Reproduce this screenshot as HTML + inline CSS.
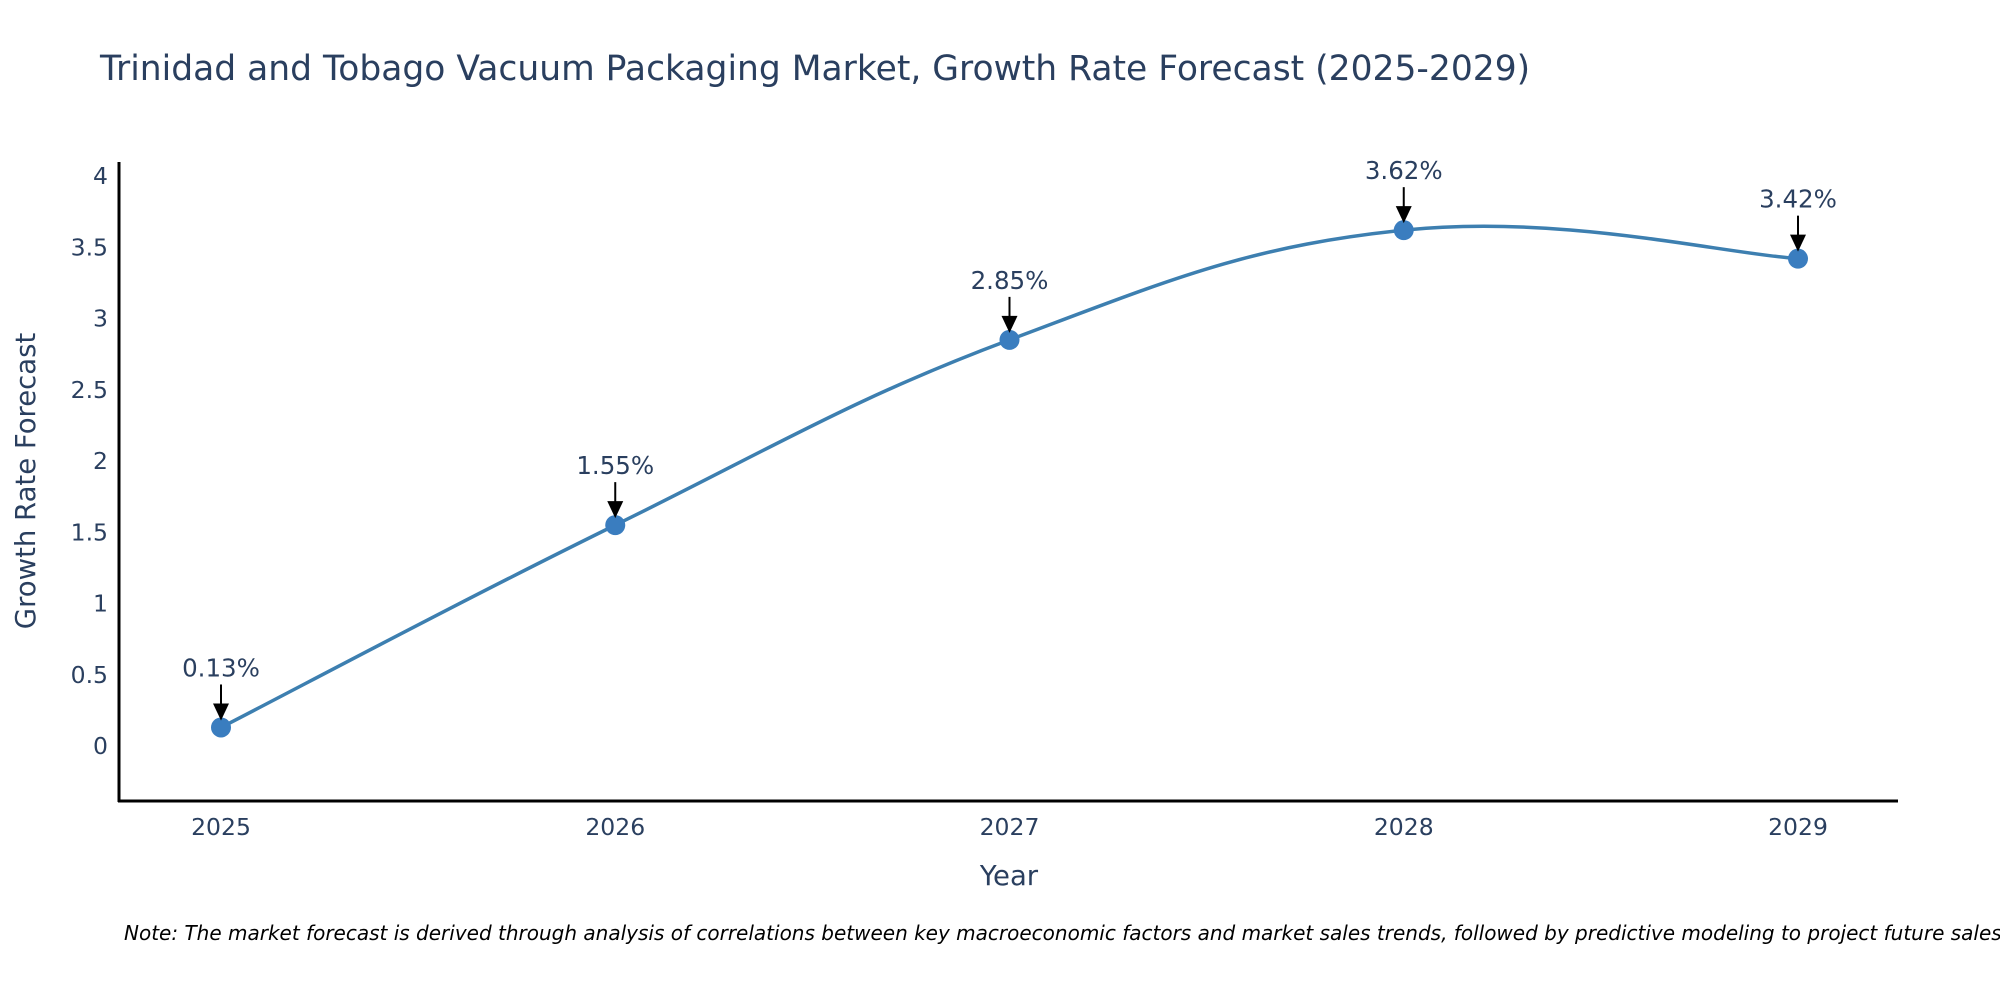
<!DOCTYPE html>
<html><head><meta charset="utf-8"><style>
body{margin:0;background:#fff;}
svg text{font-family:"DejaVu Sans","Liberation Sans",sans-serif;fill:#2a3f5f;}
</style></head><body>
<svg id="chart" width="2000" height="1000" viewBox="0 0 2000 1000" xmlns="http://www.w3.org/2000/svg">
<text x="100" y="80" font-size="34.5">Trinidad and Tobago Vacuum Packaging Market, Growth Rate Forecast (2025-2029)</text>
<g id="yticks"></g>
<g id="xticks"></g>
<line x1="119" y1="162" x2="119" y2="802" stroke="#000" stroke-width="3"/>
<line x1="118" y1="801" x2="1898" y2="801" stroke="#000" stroke-width="3"/>
<text transform="translate(35,481) rotate(-90)" text-anchor="middle" font-size="27.5">Growth Rate Forecast</text>
<text x="1009" y="885" text-anchor="middle" font-size="27.5">Year</text>
<g id="series"></g>
<g id="annots"></g>
<text x="124" y="940" font-size="20" font-style="italic" style="fill:#000">Note: The market forecast is derived through analysis of correlations between key macroeconomic factors and market sales trends, followed by predictive modeling to project future sales.</text>
</svg>
<script>
const categories = ["2025","2026","2027","2028","2029"];
const values = [0.13, 1.55, 2.85, 3.62, 3.42];
const valueLabels = ["0.13%","1.55%","2.85%","3.62%","3.42%"];
const yTicks = [0,0.5,1,1.5,2,2.5,3,3.5,4];
const yTickLabels = ["0","0.5","1","1.5","2","2.5","3","3.5","4"];

const NS="http://www.w3.org/2000/svg";
function xScale(i){return 221 + i*(1798-221)/(categories.length-1);}
function yScale(v){return 746 - v*(746-176)/4;}
function mk(tag,attrs,parent){const e=document.createElementNS(NS,tag);for(const k in attrs)e.setAttribute(k,attrs[k]);parent.appendChild(e);return e;}

const yg=document.getElementById('yticks');
yTicks.forEach((t,i)=>{
  const tx=mk('text',{x:108,y:yScale(t)+8,'text-anchor':'end','font-size':23.5},yg);
  
  
  tx.textContent=yTickLabels[i];
});
const xg=document.getElementById('xticks');
categories.forEach((c,i)=>{
  const tx=mk('text',{x:xScale(i),y:835,'text-anchor':'middle','font-size':23.5},xg);
  
  
  tx.textContent=c;
});

const pts=values.map((v,i)=>[xScale(i),yScale(v)]);
let d=`M${pts[0][0]},${pts[0][1]}`;
const s=0.6;
for(let i=0;i<pts.length-1;i++){
  const p0=pts[i-1]||pts[i],p1=pts[i],p2=pts[i+1],p3=pts[i+2]||pts[i+1];
  const c1=[p1[0]+(p2[0]-p0[0])*s/3,p1[1]+(p2[1]-p0[1])*s/3];
  const c2=[p2[0]-(p3[0]-p1[0])*s/3,p2[1]-(p3[1]-p1[1])*s/3];
  d+=` C${c1[0]},${c1[1]} ${c2[0]},${c2[1]} ${p2[0]},${p2[1]}`;
}
const sg=document.getElementById('series');
const line=mk('path',{d:d,fill:'none',stroke:'#3d7fb0','stroke-width':3.5},sg);


pts.forEach(p=>{
  const c=mk('circle',{cx:p[0],cy:p[1],r:10,fill:'#3a7dbf'},sg);
  
  
});

const ag=document.getElementById('annots');
pts.forEach((p,i)=>{
  const l=mk('line',{x1:p[0],y1:p[1]-43,x2:p[0],y2:p[1]-20,stroke:'#000','stroke-width':2},ag);
  
  
  const h=mk('path',{d:`M${p[0]-8},${p[1]-24} L${p[0]+8},${p[1]-24} L${p[0]},${p[1]-7} Z`,fill:'#000'},ag);
  
  
  const t=mk('text',{x:p[0],y:p[1]-51,'text-anchor':'middle','font-size':24.5},ag);
  
  
  t.textContent=valueLabels[i];
});
</script>
</body></html>
